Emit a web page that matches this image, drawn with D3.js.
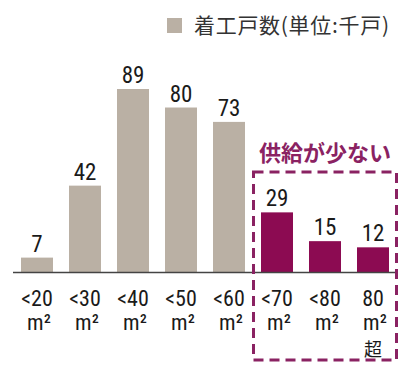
<!DOCTYPE html>
<html>
<head>
<meta charset="utf-8">
<script src="https://cdn.jsdelivr.net/npm/d3@7"></script>
<style>
  body { margin: 0; background: #fff; }
  svg { display: block; }
</style>
</head>
<body>
<div id="main"></div>
<script>
const ctx = { w: 407, h: 373 };

// data
const categories = ["<20", "<30", "<40", "<50", "<60", "<70", "<80", "80"];
const starts = [7, 42, 89, 80, 73, 29, 15, 12];   // 着工戸数 (千戸)
const lowSupply = [false, false, false, false, false, true, true, true];
const extraLine = ["", "", "", "", "", "", "", "超"];

const grey = "#bab0a4";
const plum = "#8c0b52";
const numFont = "'Liberation Sans Narrow', 'Roboto Condensed', 'Liberation Sans', sans-serif";
const cjkFont = "'Noto Sans CJK JP', 'Noto Sans', sans-serif";

const svg = d3.select("#main").append("svg")
  .attr("width", ctx.w)
  .attr("height", ctx.h);

const x = d3.scaleBand()
  .domain(categories)
  .range([13, 397])
  .paddingInner(1 / 3)
  .paddingOuter(1 / 6);

const y = d3.scaleLinear()
  .domain([0, 89])
  .range([272, 89]);

const mid = d => x(d) + x.bandwidth() / 2;

// legend
svg.append("rect")
  .attr("x", 167).attr("y", 18)
  .attr("width", 15).attr("height", 15)
  .attr("fill", grey);
svg.append("text")
  .attr("x", 194).attr("y", 33)
  .attr("font-family", cjkFont)
  .attr("font-size", 21)
  .attr("letter-spacing", 0.7)
  .attr("fill", "#333")
  .text("着工戸数(単位:千戸)");

// bars
svg.selectAll(".bar")
  .data(categories)
  .enter().append("rect")
  .attr("class", "bar")
  .attr("x", d => x(d))
  .attr("y", (d, i) => y(starts[i]))
  .attr("width", x.bandwidth())
  .attr("height", (d, i) => y(0) - y(starts[i]))
  .attr("fill", (d, i) => lowSupply[i] ? plum : grey);

// value labels
svg.selectAll(".val")
  .data(categories)
  .enter().append("text")
  .attr("class", "val")
  .attr("x", mid)
  .attr("y", (d, i) => y(starts[i]) - 6)
  .attr("text-anchor", "middle")
  .attr("font-family", numFont)
  .attr("font-size", 23)
  .attr("fill", "#1a1a1a")
  .text((d, i) => starts[i]);

// baseline
svg.append("line")
  .attr("x1", 13).attr("x2", 397)
  .attr("y1", y(0) + 0.5).attr("y2", y(0) + 0.5)
  .attr("stroke", "#444")
  .attr("stroke-width", 1.5);

// category labels, one text per row
svg.selectAll(".tick")
  .data(categories)
  .enter().append("text")
  .attr("class", "tick")
  .attr("x", mid)
  .attr("y", 306)
  .attr("text-anchor", "middle")
  .attr("font-family", numFont)
  .attr("font-size", 22)
  .attr("fill", "#1a1a1a")
  .text(d => d);

svg.selectAll(".unit")
  .data(categories)
  .enter().append("text")
  .attr("class", "unit")
  .attr("x", d => mid(d) + 2)
  .attr("y", 329.5)
  .attr("text-anchor", "middle")
  .attr("font-family", numFont)
  .attr("font-size", 22)
  .attr("fill", "#1a1a1a")
  .text("m²");

svg.selectAll(".extra")
  .data(categories.filter((d, i) => extraLine[i] !== ""))
  .enter().append("text")
  .attr("class", "extra")
  .attr("x", mid)
  .attr("y", 355.5)
  .attr("text-anchor", "middle")
  .attr("font-family", cjkFont)
  .attr("font-size", 18)
  .attr("fill", "#1a1a1a")
  .text(d => extraLine[categories.indexOf(d)]);

// highlight box
svg.append("rect")
  .attr("x", 253.5).attr("y", 172)
  .attr("width", 143).attr("height", 188)
  .attr("fill", "none")
  .attr("stroke", "#8a2262")
  .attr("stroke-width", 3)
  .attr("stroke-dasharray", "10,6");

svg.append("text")
  .attr("x", 325).attr("y", 161)
  .attr("text-anchor", "middle")
  .attr("font-family", cjkFont)
  .attr("font-weight", "bold")
  .attr("font-size", 22)
  .attr("fill", "#8a2262")
  .text("供給が少ない");
</script>
</body>
</html>
